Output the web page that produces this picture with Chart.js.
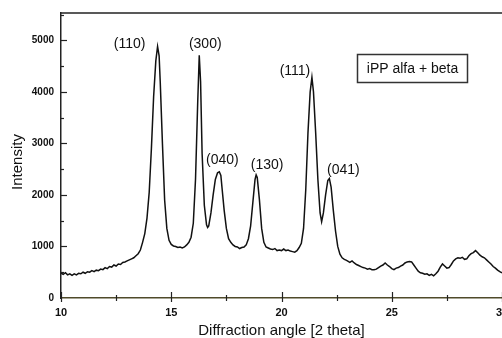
<!DOCTYPE html>
<html>
<head>
<meta charset="utf-8">
<script src="https://cdn.jsdelivr.net/npm/chart.js@4.4.1/dist/chart.umd.min.js"></script>
<style>
  html, body { margin: 0; padding: 0; background: #fff; overflow: hidden; }
  #wrap { position: relative; width: 510px; height: 338px; }
</style>
</head>
<body>
<div id="wrap"><canvas id="xrd"></canvas></div>
<script>
// diffraction scan, 2 theta vs counts
var angle = [
  10.0, 10.1, 10.2, 10.3, 10.4, 10.5, 10.6, 10.7, 10.8, 10.9,
  11.0, 11.1, 11.2, 11.3, 11.4, 11.5, 11.6, 11.7, 11.8, 11.9,
  12.0, 12.1, 12.2, 12.3, 12.4, 12.5, 12.6, 12.7, 12.8, 12.9,
  13.0, 13.1, 13.2, 13.3, 13.4, 13.5, 13.6, 13.7, 13.8, 13.9,
  14.0, 14.1, 14.2, 14.3, 14.38, 14.45, 14.5, 14.6, 14.7, 14.8, 14.9,
  15.0, 15.1, 15.2, 15.3, 15.4, 15.5, 15.6, 15.7, 15.8, 15.9,
  16.0, 16.1, 16.2, 16.27, 16.33, 16.4, 16.5, 16.6, 16.65, 16.7, 16.8, 16.9,
  17.0, 17.1, 17.18, 17.25, 17.3, 17.4, 17.5, 17.6, 17.7, 17.8, 17.9,
  18.0, 18.1, 18.2, 18.3, 18.4, 18.5, 18.6, 18.7, 18.8, 18.85, 18.9,
  19.0, 19.1, 19.2, 19.3, 19.4, 19.5, 19.6, 19.7, 19.8, 19.9,
  20.0, 20.1, 20.2, 20.3, 20.4, 20.5, 20.6, 20.7, 20.8, 20.9,
  21.0, 21.1, 21.2, 21.3, 21.38, 21.45, 21.55, 21.65, 21.75, 21.82, 21.9,
  22.0, 22.1, 22.17, 22.25, 22.35, 22.45, 22.55, 22.65, 22.75, 22.85, 22.95,
  23.1, 23.2, 23.3, 23.4, 23.5, 23.6, 23.7, 23.8, 23.9,
  24.0, 24.1, 24.2, 24.3, 24.4, 24.5, 24.6, 24.7, 24.8, 24.9,
  25.0, 25.1, 25.2, 25.3, 25.4, 25.5, 25.6, 25.7, 25.8, 25.9,
  26.0, 26.1, 26.2, 26.3, 26.4, 26.5, 26.6, 26.7, 26.8, 26.9,
  27.0, 27.1, 27.2, 27.3, 27.4, 27.5, 27.6, 27.7, 27.8, 27.9,
  28.0, 28.1, 28.2, 28.3, 28.4, 28.5, 28.6, 28.7, 28.8, 28.9,
  29.0, 29.1, 29.2, 29.3, 29.4, 29.5, 29.6, 29.7, 29.8, 29.9, 30.0
];
var intensity = [
  480, 460, 490, 450, 470, 440, 470, 450, 480, 470,
  500, 480, 510, 500, 530, 510, 540, 530, 560, 550,
  590, 570, 610, 600, 640, 620, 660, 650, 690, 700,
  720, 740, 760, 780, 820, 860, 930, 1080, 1250, 1550,
  2050, 2900, 3900, 4600, 4880, 4700, 4200, 3000, 1900, 1350, 1120,
  1040, 1010, 1000, 980, 990, 970, 990, 1030, 1080, 1180,
  1450, 2300, 3800, 4710, 4200, 2800, 1800, 1420, 1370, 1400, 1650, 2000,
  2300, 2430, 2450, 2380, 2150, 1700, 1350, 1150, 1080, 1030, 1000,
  990, 960, 980, 990, 1030, 1150, 1400, 1850, 2300, 2390, 2340,
  1900, 1350, 1080, 990, 970, 950, 940, 960, 920, 930,
  920, 950, 920, 930, 910, 900, 890, 920, 980, 1060,
  1350, 2100, 3200, 4000, 4280, 4000, 3200, 2300, 1650, 1480, 1650,
  2000, 2280, 2320, 2150, 1700, 1300, 1000, 850, 780, 750, 730,
  690, 720, 680, 650, 630, 610, 590, 580, 560,
  570, 550, 550, 560, 590, 620, 640, 680, 640, 610,
  570, 550, 580, 590, 620, 640, 680, 700, 710, 700,
  640, 580, 520, 490, 480, 460, 470, 440, 460, 430,
  470, 520, 600, 660, 620, 580, 590, 650, 720, 760,
  780, 770, 790, 750, 760, 820, 860, 880, 920, 880,
  830, 800, 780, 740, 700, 660, 610, 580, 540, 510, 490
];

// reflections named on the trace
var peakNames = ['(110)', '(300)', '(040)', '(130)', '(111)', '(041)'];
var peakAngle = [14.38, 16.27, 17.18, 18.85, 21.38, 22.17];
var peakHeight = [4880, 4710, 2450, 2390, 4280, 2320];

var yTicks = [0, 1000, 2000, 3000, 4000, 5000];
var xTicks = [10, 15, 20, 25, 30];
var sampleLabel = 'iPP alfa + beta';
var yTitle = 'Intensity';

// where each name sits relative to its peak tip (px)
var nameShift = [[-28, -2], [6, -11], [3, -12], [11, -10], [-17, -6], [14, -8]];

var points = angle.map(function (a, i) { return { x: a, y: intensity[i] }; });
var narrow = "'Liberation Sans Narrow', 'Liberation Sans', Arial, sans-serif";
var labelFont = 'Arial, "Liberation Sans", sans-serif';

function plain(v) { return String(v); }

var decor = {
  id: 'decor',
  afterDraw: function (chart) {
    var ctx = chart.ctx, xs = chart.scales.x, ys = chart.scales.y, area = chart.chartArea;
    ctx.save();
    // top edge of frame
    ctx.strokeStyle = '#222';
    ctx.lineWidth = 1.5;
    ctx.beginPath();
    ctx.moveTo(area.left, area.top);
    ctx.lineTo(area.right, area.top);
    ctx.stroke();

    // y tick marks, inside
    ctx.lineWidth = 1.2;
    for (var v = 500; v <= 5500; v += 500) {
      var py = Math.round(ys.getPixelForValue(v)) + 0.5;
      var len = (v % 1000 === 0) ? 6 : 3;
      ctx.beginPath();
      ctx.moveTo(area.left, py);
      ctx.lineTo(area.left + len, py);
      ctx.stroke();
    }
    // x tick marks, crossing the axis
    for (var t = 10; t <= 30; t += 2.5) {
      var px = Math.round(xs.getPixelForValue(t)) + 0.5;
      var major = (t % 5 === 0);
      ctx.beginPath();
      ctx.moveTo(px, area.bottom - (major ? 6 : 3));
      ctx.lineTo(px, area.bottom + (major ? 4 : 3));
      ctx.stroke();
    }

    // y axis title, a little below the middle of the frame
    ctx.fillStyle = '#111';
    ctx.textAlign = 'center';
    ctx.textBaseline = 'middle';
    ctx.font = '15px ' + labelFont;
    ctx.translate(18, 162);
    ctx.rotate(-Math.PI / 2);
    ctx.fillText(yTitle, 0, 0);
    ctx.setTransform(1, 0, 0, 1, 0, 0);

    // reflection names
    ctx.font = '14px ' + labelFont;
    peakNames.forEach(function (name, i) {
      var x = xs.getPixelForValue(peakAngle[i]) + nameShift[i][0];
      var y = ys.getPixelForValue(peakHeight[i]) + nameShift[i][1];
      ctx.fillText(name, x, y);
    });

    // sample box
    ctx.strokeStyle = '#333';
    ctx.lineWidth = 1.5;
    ctx.strokeRect(357.5, 54.5, 110, 28);
    ctx.fillText(sampleLabel, 412.5, 69);
    ctx.restore();
  }
};

new Chart(document.getElementById('xrd'), {
  type: 'line',
  data: {
    datasets: [{
      data: points,
      borderColor: '#111',
      borderWidth: 1.5,
      pointRadius: 0,
      tension: 0,
      fill: false
    }]
  },
  options: {
    responsive: true,
    maintainAspectRatio: false,
    animation: false,
    layout: { padding: { top: 13, right: 8, left: 0, bottom: 0 } },
    plugins: { legend: { display: false }, tooltip: { enabled: false } },
    scales: {
      x: {
        type: 'linear',
        min: 10,
        max: 30,
        afterFit: function (s) { s.height = 40; s.paddingLeft = 0; s.paddingRight = 0; },
        afterBuildTicks: function (s) { s.ticks = xTicks.map(function (v) { return { value: v }; }); },
        grid: { display: false, drawTicks: false },
        border: { display: true, color: '#4f4a2a', width: 1.5 },
        ticks: { color: '#111', font: { family: narrow, size: 11, weight: 'bold' }, padding: 8, maxRotation: 0, callback: plain },
        title: {
          display: true,
          text: 'Diffraction angle [2 theta]',
          color: '#111',
          font: { family: labelFont, size: 15 },
          padding: { top: 0, bottom: -2 }
        }
      },
      y: {
        min: 0,
        max: 5530,
        afterFit: function (s) { s.width = 61; s.paddingTop = 0; s.paddingBottom = 0; },
        afterBuildTicks: function (s) { s.ticks = yTicks.map(function (v) { return { value: v }; }); },
        grid: { display: false, drawTicks: false },
        border: { display: true, color: '#222', width: 1.5 },
        ticks: { color: '#111', font: { family: narrow, size: 10, weight: 'bold' }, padding: 7, callback: plain }
      }
    }
  },
  plugins: [decor]
});
</script>
</body>
</html>
